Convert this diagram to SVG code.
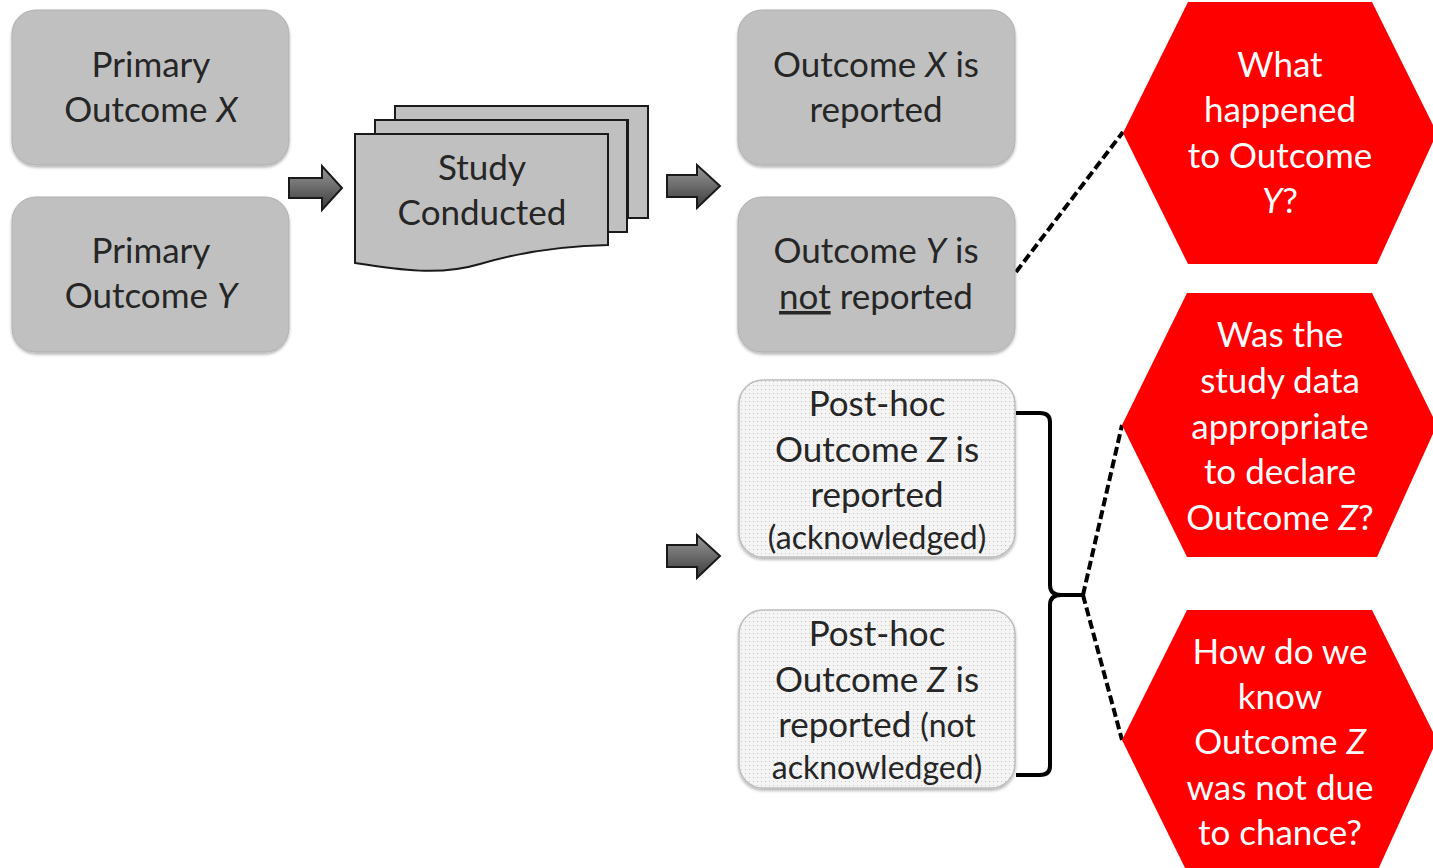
<svg xmlns="http://www.w3.org/2000/svg" width="1433" height="868" viewBox="0 0 1433 868">
<defs>
<style>
.box{fill:#c0c0c0;stroke:#b0b0b0;stroke-width:1}
.doc{fill:#c0c0c0;stroke:#1a1a1a;stroke-width:2}
.ph{fill:url(#dots);stroke:#bdbdbd;stroke-width:1.5}
.hex{fill:#ff0000}
.t{font-family:Lato,"Open Sans","Liberation Sans",sans-serif;font-size:35px;fill:#262626;text-anchor:middle}
.w{fill:#ffffff}
.s{font-size:32px}
.arr{fill:url(#ag);stroke:#1a1a1a;stroke-width:2;stroke-linejoin:miter}
.dash{fill:none;stroke:#000;stroke-width:4;stroke-dasharray:9,4}
.br{fill:none;stroke:#000;stroke-width:4}
</style>
<pattern id="dots" width="4" height="4" patternUnits="userSpaceOnUse">
<rect width="4" height="4" fill="#f4f4f4"/>
<rect x="1" y="1" width="1" height="1" fill="#c8c8c8"/>
</pattern>
<linearGradient id="ag" x1="0" y1="0" x2="0" y2="1">
<stop offset="0" stop-color="#9a9a9a"/>
<stop offset="0.5" stop-color="#6a6a6a"/>
<stop offset="1" stop-color="#3a3a3a"/>
</linearGradient>
<filter id="sh" x="-5%" y="-5%" width="110%" height="115%">
<feDropShadow dx="0" dy="2" stdDeviation="1.5" flood-color="#000" flood-opacity="0.3"/>
</filter>
</defs>

<g id="connectors">
<path class="dash" d="M1016,272 L1123,132"/>
<path class="br" d="M1016,413 L1040,413 Q1050,413 1050,422 L1050,585 Q1050,595 1061,595 L1083,595 M1083,595 L1061,595 Q1050,595 1050,605 L1050,766 Q1050,775 1040,775 L1016,775"/>
<path class="dash" d="M1083,595 L1122,425"/>
<path class="dash" d="M1083,595 L1122,740"/>
<path class="arr" d="M289,178 L322,178 L322,166 L342,188 L322,210 L322,198 L289,198 Z"/>
<path class="arr" d="M667,175 L697,175 L697,165 L720,186 L697,208 L697,197 L667,197 Z"/>
<path class="arr" d="M667,545 L697,545 L697,535 L720,556 L697,578 L697,567 L667,567 Z"/>
</g>

<g id="primary-x">
<rect class="box" x="12" y="10" width="277" height="155" rx="24" filter="url(#sh)"/>
<text class="t" x="151" y="77">Primary</text>
<text class="t" x="151" y="122">Outcome <tspan font-style="italic">X</tspan></text>
</g>

<g id="primary-y">
<rect class="box" x="12" y="197" width="277" height="155" rx="24" filter="url(#sh)"/>
<text class="t" x="151" y="263">Primary</text>
<text class="t" x="151" y="308">Outcome <tspan font-style="italic">Y</tspan></text>
</g>

<g id="study">
<path class="doc" d="M395,106 L648,106 L648,218 L628,218 L628,120 L395,120 Z"/>
<path class="doc" d="M375,120 L627,120 L627,232 L608,232 L608,134 L375,134 Z"/>
<path class="doc" d="M355,134 L608,134 L608,245 C560,246 520,252 480,264 C440,276 400,270 355,263 Z"/>
<text class="t" x="482" y="180">Study</text>
<text class="t" x="482" y="225">Conducted</text>
</g>

<g id="outcome-x-reported">
<rect class="box" x="738" y="10" width="277" height="155" rx="24" filter="url(#sh)"/>
<text class="t" x="876" y="77">Outcome <tspan font-style="italic">X</tspan> is</text>
<text class="t" x="876" y="122">reported</text>
</g>

<g id="outcome-y-not-reported">
<rect class="box" x="738" y="197" width="277" height="155" rx="24" filter="url(#sh)"/>
<text class="t" x="876" y="263">Outcome <tspan font-style="italic">Y</tspan> is</text>
<text class="t" x="876" y="309"><tspan text-decoration="underline">not</tspan> reported</text>
</g>

<g id="posthoc-ack">
<rect class="ph" x="739" y="380" width="276" height="177" rx="24" filter="url(#sh)"/>
<text class="t" x="877" y="416">Post-hoc</text>
<text class="t" x="877" y="462">Outcome <tspan font-style="italic">Z</tspan> is</text>
<text class="t" x="877" y="507">reported</text>
<text class="t s" x="877" y="549">(acknowledged)</text>
</g>

<g id="posthoc-notack">
<rect class="ph" x="739" y="610" width="276" height="178" rx="24" filter="url(#sh)"/>
<text class="t" x="877" y="646">Post-hoc</text>
<text class="t" x="877" y="692">Outcome <tspan font-style="italic">Z</tspan> is</text>
<text class="t" x="877" y="737">reported <tspan class="s">(not</tspan></text>
<text class="t s" x="877" y="779">acknowledged)</text>
</g>

<g id="q-y">
<polygon class="hex" points="1188,2 1372,2 1437,133 1377,264 1188,264 1123,133"/>
<text class="t w" x="1280" y="77">What</text>
<text class="t w" x="1280" y="122">happened</text>
<text class="t w" x="1280" y="168">to Outcome</text>
<text class="t w" x="1280" y="213"><tspan font-style="italic">Y</tspan>?</text>
</g>

<g id="q-z-data">
<polygon class="hex" points="1187,293 1372,293 1437,425 1377,557 1187,557 1122,425"/>
<text class="t w" x="1280" y="347">Was the</text>
<text class="t w" x="1280" y="393">study data</text>
<text class="t w" x="1280" y="439">appropriate</text>
<text class="t w" x="1280" y="484">to declare</text>
<text class="t w" x="1280" y="530">Outcome <tspan font-style="italic">Z</tspan>?</text>
</g>

<g id="q-z-chance">
<polygon class="hex" points="1187,610 1372,610 1437,740 1377,872 1187,872 1122,740"/>
<text class="t w" x="1280" y="664">How do we</text>
<text class="t w" x="1280" y="709">know</text>
<text class="t w" x="1280" y="754">Outcome <tspan font-style="italic">Z</tspan></text>
<text class="t w" x="1280" y="800">was not due</text>
<text class="t w" x="1280" y="845">to chance?</text>
</g>
</svg>
